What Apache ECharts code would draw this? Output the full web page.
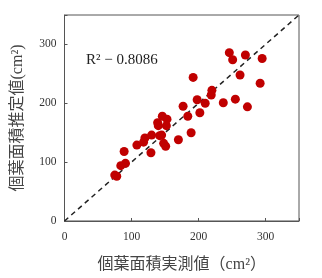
<!DOCTYPE html>
<html>
<head>
<meta charset="utf-8">
<script src="https://cdn.jsdelivr.net/npm/echarts@6/dist/echarts.min.js"></script>
<style>
  html, body { margin: 0; padding: 0; background: #fff; }
  #chart { width: 322px; height: 278px; }
</style>
</head>
<body>
<div id="chart"></div>
<script>
// 実測値 (x) と推定値 (y)
const measured = [75, 78, 84, 89, 91, 108, 118, 120, 129, 130, 139, 140, 142, 145, 146, 148, 151, 152, 153,
  170, 177, 184, 189, 192, 198, 202, 210, 219, 220, 237, 246, 251, 255, 262, 270, 273, 292, 295];
const estimated = [78, 76, 94, 118, 98, 129, 134, 141, 116, 146, 167, 162, 145, 146, 178, 132, 127, 162, 173,
  138, 195, 178, 150, 244, 206, 184, 200, 214, 222, 201, 286, 274, 207, 248, 282, 194, 234, 276];
const refLine = [[0, 0], [350, 350]];
const axisTicks = [0, 100, 200, 300];
const r2Text = 'R² − 0.8086';

const serif = '"Liberation Serif", "DejaVu Serif", serif';
const cjk = '"Liberation Serif", "Noto Sans CJK JP", serif';

const chart = echarts.init(document.getElementById('chart'));
const axisCommon = {
  type: 'value',
  min: 0,
  max: 350,
  interval: 100,
  axisLine: { show: true, lineStyle: { color: '#555', width: 1 } },
  axisTick: { show: true, inside: true, length: 3, lineStyle: { color: '#555' } },
  splitLine: { show: false },
  nameLocation: 'middle',
  nameTextStyle: { fontFamily: cjk, fontSize: 16, color: '#444' },
  axisLabel: {
    fontFamily: serif, fontSize: 11.5, color: '#333',
    formatter: v => axisTicks.indexOf(v) >= 0 ? String(v) : ''
  }
};

const option = {
  animation: false,
  grid: { left: 64.5, right: 23, top: 15, bottom: 51, show: true, borderColor: '#555', borderWidth: 1 },
  xAxis: Object.assign({}, axisCommon, {
    name: '個葉面積実測値（cm²）',
    nameGap: 36,
    axisLabel: Object.assign({}, axisCommon.axisLabel, { margin: 10 })
  }),
  yAxis: Object.assign({}, axisCommon, {
    name: '個葉面積推定値(cm²)',
    nameGap: 39,
    axisLabel: Object.assign({}, axisCommon.axisLabel, { margin: 8 })
  }),
  graphic: [{
    type: 'text',
    left: 86,
    top: 53,
    style: { text: r2Text, font: '15px ' + serif, fill: '#222' }
  }],
  series: [
    {
      type: 'line',
      data: refLine,
      symbol: 'none',
      lineStyle: { color: '#222', width: 1.5, type: [5, 4] },
      z: 1
    },
    {
      type: 'scatter',
      data: measured.map((x, i) => [x, estimated[i]]),
      symbolSize: 9,
      itemStyle: { color: '#c00000', opacity: 1 },
      z: 2
    }
  ]
};
chart.setOption(option);
</script>
</body>
</html>
